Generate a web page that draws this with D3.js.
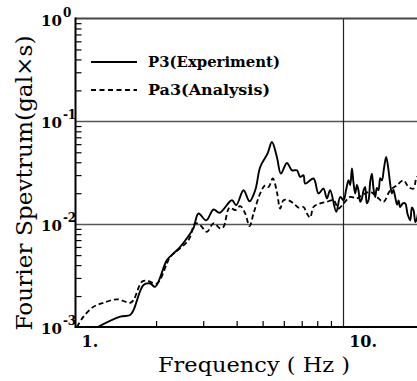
<!DOCTYPE html>
<html>
<head>
<meta charset="utf-8">
<script src="https://cdn.jsdelivr.net/npm/d3@7"></script>
<style>
  body { margin: 0; background: #fff; }
  svg { display: block; }
  text { font-family: "DejaVu Serif", "Liberation Serif", serif; fill: #000; }
</style>
</head>
<body>
<div id="chart"></div>
<script>
// frequency (Hz) / Fourier amplitude (gal x s)
var expFreq = [1.219, 1.469, 1.600, 1.647, 1.795, 1.901, 1.985, 2.195, 2.323, 2.461,
    2.683, 2.760, 2.881, 3.077, 3.278, 3.451, 3.839, 3.984, 4.243, 4.467,
    4.692, 4.898, 5.215, 5.417, 5.653, 5.851, 6.163, 6.434, 6.714, 6.909,
    7.108, 7.210, 7.745, 8.085, 8.440, 8.690, 8.940, 9.420, 9.750, 10.03,
    10.25, 10.47, 10.62, 10.78, 10.93, 11.09, 11.25, 11.40, 11.58, 11.75,
    11.92, 12.08, 12.25, 12.43, 12.62, 12.80, 12.98, 13.17, 13.36, 13.55,
    13.75, 13.95, 14.20, 14.47, 14.77, 15.00, 15.20, 15.40, 15.64, 15.90,
    16.10, 16.33, 16.70, 17.05, 17.40, 17.80, 18.05, 18.31, 18.60, 18.85,
    19.20, 19.73];
var expAmp = [0.00101, 0.00126, 0.00131, 0.00146, 0.00256, 0.00265, 0.00246, 0.00447, 0.00519, 0.00602,
    0.00812, 0.00914, 0.0127, 0.0109, 0.0139, 0.0129, 0.0171, 0.0153, 0.0214, 0.0167,
    0.0214, 0.0360, 0.0485, 0.0629, 0.0450, 0.0310, 0.0394, 0.0334, 0.0334, 0.0288,
    0.0299, 0.0248, 0.0278, 0.0199, 0.0222, 0.0178, 0.0214, 0.0132, 0.0184, 0.0171,
    0.0215, 0.0267, 0.0240, 0.0348, 0.0250, 0.0199, 0.0240, 0.0214, 0.0165, 0.0178,
    0.0215, 0.0230, 0.0160, 0.0171, 0.0260, 0.0310, 0.0220, 0.0184, 0.0225, 0.0214,
    0.0280, 0.0267, 0.0350, 0.0450, 0.0334, 0.0240, 0.0199, 0.0215, 0.0184, 0.0155,
    0.0170, 0.0147, 0.0159, 0.0159, 0.0125, 0.0109, 0.0145, 0.0137, 0.0105, 0.0113,
    0.0135, 0.0130];

var anaFreq = [1.012, 1.071, 1.167, 1.272, 1.428, 1.600, 1.647, 1.770, 1.848, 2.014,
    2.195, 2.259, 2.643, 2.800, 2.923, 3.096, 3.278, 3.472, 3.572, 3.761,
    3.952, 4.124, 4.305, 4.467, 4.624, 4.898, 5.112, 5.260, 5.460, 5.653,
    5.816, 5.984, 6.248, 6.523, 6.808, 7.108, 7.318, 7.529, 7.745, 8.207,
    8.690, 9.200, 9.600, 10.03, 10.62, 11.25, 11.75, 12.62, 13.36, 14.14,
    14.98, 15.87, 16.80, 17.53, 18.31, 18.85, 19.73];
var anaAmp = [0.00100, 0.00126, 0.00157, 0.00172, 0.00186, 0.00172, 0.00183, 0.00275, 0.00282, 0.00265,
    0.00415, 0.00481, 0.00700, 0.0102, 0.00978, 0.00842, 0.0102, 0.00908, 0.00941, 0.0145,
    0.0137, 0.0150, 0.0127, 0.00956, 0.0127, 0.0199, 0.0239, 0.0230, 0.0278, 0.0206,
    0.0142, 0.0171, 0.0171, 0.0159, 0.0145, 0.0147, 0.0127, 0.0116, 0.0147, 0.0159,
    0.0165, 0.0171, 0.0142, 0.0159, 0.0184, 0.0178, 0.0191, 0.0206, 0.0184, 0.0165,
    0.0214, 0.0239, 0.0267, 0.0230, 0.0222, 0.0288, 0.0250];

var seriesNames = ["P3(Experiment)", "Pa3(Analysis)"];
var yTickValues = [1e-3, 1e-2, 1e-1, 1];
var yTickExp = ["-3", "-2", "-1", "0"];
var xTickValues = [1, 10];
var xTickLabels = ["1.", "10."];
var xLabel = "Frequency ( Hz )";
var yLabel = "Fourier Spevtrum(gal×s)";

var chartWidth = 417, chartHeight = 381;
var plotLeft = 75.5, plotTop = 18.5, plotBottom = 327;
var plotRight = plotLeft + 267.7 * Math.log10(20);

var svg = d3.select("#chart").append("svg")
    .attr("width", chartWidth)
    .attr("height", chartHeight);

var x = d3.scaleLog().domain([1, 20]).range([plotLeft, plotRight]);
var y = d3.scaleLog().domain([1e-3, 1]).range([plotBottom, plotTop]);

// minor ticks on each decade (pointing inward)
var yMinor = [];
var xMinor = [];
[1e-3, 1e-2, 1e-1].forEach(function(d) {
    for (var k = 2; k <= 9; k++) yMinor.push(d * k);
});
for (var k = 2; k <= 9; k++) xMinor.push(k);

svg.append("g")
    .attr("transform", "translate(" + plotLeft + ",0)")
    .call(d3.axisRight(y).tickValues(yMinor).tickSize(6).tickFormat(""))
    .call(function(g) {
        g.select(".domain").remove();
        g.selectAll("line").attr("stroke", "#000").attr("stroke-width", 1.2);
    });

svg.append("g")
    .attr("transform", "translate(0," + plotBottom + ")")
    .call(d3.axisTop(x).tickValues(xMinor).tickSize(6).tickFormat(""))
    .call(function(g) {
        g.select(".domain").remove();
        g.selectAll("line").attr("stroke", "#000").attr("stroke-width", 1.2);
    });

// grid lines
svg.append("g").selectAll("line")
    .data([1e-2, 1e-1])
    .enter().append("line")
    .attr("x1", plotLeft).attr("x2", chartWidth)
    .attr("y1", function(d) { return Math.round(y(d)) + 0.5; })
    .attr("y2", function(d) { return Math.round(y(d)) + 0.5; })
    .attr("stroke", "#555")
    .attr("stroke-width", 1.6);

svg.append("line")
    .attr("x1", Math.round(x(10)) + 0.5).attr("x2", Math.round(x(10)) + 0.5)
    .attr("y1", plotTop).attr("y2", plotBottom)
    .attr("stroke", "#222")
    .attr("stroke-width", 1.2);

// frame: top, left, bottom
svg.append("line")
    .attr("x1", plotLeft).attr("x2", chartWidth)
    .attr("y1", y(1)).attr("y2", y(1))
    .attr("stroke", "#444").attr("stroke-width", 2);
svg.append("line")
    .attr("x1", plotLeft).attr("x2", chartWidth)
    .attr("y1", plotBottom).attr("y2", plotBottom)
    .attr("stroke", "#000").attr("stroke-width", 2);
svg.append("line")
    .attr("x1", plotLeft).attr("x2", plotLeft)
    .attr("y1", plotTop - 1).attr("y2", plotBottom + 1)
    .attr("stroke", "#000").attr("stroke-width", 2);

// curves
svg.append("clipPath").attr("id", "plotclip")
    .append("rect")
    .attr("x", plotLeft).attr("y", plotTop)
    .attr("width", chartWidth - plotLeft).attr("height", plotBottom - plotTop);

var line = d3.line()
    .x(function(d) { return x(d[0]); })
    .y(function(d) { return y(d[1]); })
    .curve(d3.curveCatmullRom.alpha(0.5));

var plot = svg.append("g").attr("clip-path", "url(#plotclip)");

plot.append("path")
    .datum(anaFreq.map(function(f, i) { return [f, anaAmp[i]]; }))
    .attr("d", line)
    .attr("fill", "none")
    .attr("stroke", "#000")
    .attr("stroke-width", 1.8)
    .attr("stroke-dasharray", "5,3");

plot.append("path")
    .datum(expFreq.map(function(f, i) { return [f, expAmp[i]]; }))
    .attr("d", line)
    .attr("fill", "none")
    .attr("stroke", "#000")
    .attr("stroke-width", 1.9);

// y tick labels: 10 with superscript exponent
var yl = svg.append("g").selectAll("text")
    .data(yTickValues)
    .enter().append("text")
    .attr("x", 41)
    .attr("y", function(d) { return y(d) + 7; })
    .style("font-size", "15px")
    .style("font-weight", "bold");
yl.append("tspan").text("10");
yl.append("tspan")
    .attr("dx", 1)
    .attr("dy", -9)
    .style("font-size", "12px")
    .text(function(d, i) { return yTickExp[i]; });

// x tick labels
svg.append("g").selectAll("text")
    .data(xTickValues)
    .enter().append("text")
    .attr("x", function(d) { return x(d) + 6; })
    .attr("y", 347)
    .style("font-size", "16px")
    .style("font-weight", "bold")
    .text(function(d, i) { return xTickLabels[i]; });

// legend
var legend = svg.append("g");
seriesNames.forEach(function(name, i) {
    var ly = 62 + i * 28;
    legend.append("line")
        .attr("x1", 91).attr("x2", 137)
        .attr("y1", ly).attr("y2", ly)
        .attr("stroke", "#000")
        .attr("stroke-width", 1.9)
        .attr("stroke-dasharray", i === 1 ? "5,3.5" : null);
    legend.append("text")
        .attr("x", 148)
        .attr("y", ly + 5)
        .attr("textLength", i === 0 ? 132 : 122)
        .attr("lengthAdjust", "spacingAndGlyphs")
        .style("font-size", "15px")
        .style("font-weight", "bold")
        .text(name);
});

// axis titles
svg.append("text")
    .attr("x", 158)
    .attr("y", 372)
    .attr("textLength", 192)
    .attr("lengthAdjust", "spacingAndGlyphs")
    .style("font-size", "21px")
    .text(xLabel);

svg.append("text")
    .attr("transform", "translate(32,183)rotate(-90)")
    .attr("text-anchor", "middle")
    .attr("textLength", 295)
    .attr("lengthAdjust", "spacingAndGlyphs")
    .style("font-size", "22px")
    .text(yLabel);
</script>
</body>
</html>
